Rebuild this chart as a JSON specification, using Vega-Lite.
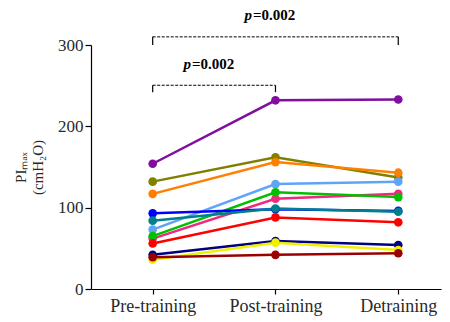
{
  "$schema": "https://vega.github.io/schema/vega-lite/v6.json",
  "autosize": {"type": "none"},
  "width": 350,
  "height": 244,
  "padding": {"left": 91, "top": 45, "right": 9, "bottom": 33},
  "config": {
    "view": {"stroke": null},
    "font": "Liberation Serif, Times New Roman, serif",
    "text": {"font": "Liberation Serif, Times New Roman, serif"},
    "axis": {"labelFont": "Liberation Serif, Times New Roman, serif", "titleFont": "Liberation Serif, Times New Roman, serif", "domainColor": "#000", "tickColor": "#000", "labelColor": "#2a2a2a", "titleColor": "#2a2a2a", "grid": false, "domainWidth": 1.2, "tickWidth": 1.2}
  },
  "datasets": {
    "pts": [
      {"id": "purple", "t": 1, "v": 154}, {"id": "purple", "t": 2, "v": 232}, {"id": "purple", "t": 3, "v": 233},
      {"id": "olive", "t": 1, "v": 132}, {"id": "olive", "t": 2, "v": 162}, {"id": "olive", "t": 3, "v": 137},
      {"id": "orange", "t": 1, "v": 117}, {"id": "orange", "t": 2, "v": 156}, {"id": "orange", "t": 3, "v": 143},
      {"id": "lightblue", "t": 1, "v": 73}, {"id": "lightblue", "t": 2, "v": 129}, {"id": "lightblue", "t": 3, "v": 132},
      {"id": "pink", "t": 1, "v": 62}, {"id": "pink", "t": 2, "v": 111}, {"id": "pink", "t": 3, "v": 117},
      {"id": "green", "t": 1, "v": 65}, {"id": "green", "t": 2, "v": 119}, {"id": "green", "t": 3, "v": 113},
      {"id": "blue", "t": 1, "v": 93}, {"id": "blue", "t": 2, "v": 98}, {"id": "blue", "t": 3, "v": 96},
      {"id": "teal", "t": 1, "v": 84}, {"id": "teal", "t": 2, "v": 99}, {"id": "teal", "t": 3, "v": 95},
      {"id": "red", "t": 1, "v": 56}, {"id": "red", "t": 2, "v": 88}, {"id": "red", "t": 3, "v": 82},
      {"id": "navy", "t": 1, "v": 42}, {"id": "navy", "t": 2, "v": 59}, {"id": "navy", "t": 3, "v": 54},
      {"id": "yellow", "t": 1, "v": 36}, {"id": "yellow", "t": 2, "v": 57}, {"id": "yellow", "t": 3, "v": 48},
      {"id": "darkred", "t": 1, "v": 39}, {"id": "darkred", "t": 2, "v": 42}, {"id": "darkred", "t": 3, "v": 44}
    ],
    "hlines": [
      {"x1": 1, "x2": 3, "y": 310},
      {"x1": 1, "x2": 2, "y": 250.5}
    ],
    "vlines": [
      {"x": 1, "y1": 310, "y2": 300},
      {"x": 3, "y1": 310, "y2": 300},
      {"x": 1, "y1": 250.5, "y2": 242},
      {"x": 2, "y1": 250.5, "y2": 242}
    ],
    "labels": [
      {"x": 1.817, "y": 337, "p": "p", "rest": "=0.002"},
      {"x": 1.32, "y": 277, "p": "p", "rest": "=0.002"}
    ]
  },
  "layer": [
    {
      "data": {"name": "pts"},
      "mark": {"type": "line", "strokeWidth": 2.5},
      "encoding": {
        "x": {"field": "t", "type": "quantitative", "scale": {"domain": [0.4976, 3.348], "nice": false, "zero": false},
          "axis": {"values": [1, 2, 3], "labelExpr": "datum.value == 1 ? 'Pre-training' : datum.value == 2 ? 'Post-training' : 'Detraining'", "title": null, "labelFontSize": 18, "tickSize": 5, "labelPadding": 3}},
        "y": {"field": "v", "type": "quantitative", "scale": {"domain": [0, 300], "nice": false},
          "axis": {"values": [0, 100, 200, 300], "labelFontSize": 17, "tickSize": 6, "labelPadding": 2, "title": ["PIₘₐₓ", "(cmH₂O)"], "titleFontSize": 15, "titleFontWeight": "normal", "titlePadding": 12}},
        "color": {"field": "id", "type": "nominal", "legend": null,
          "scale": {"domain": ["purple", "olive", "orange", "lightblue", "pink", "green", "blue", "teal", "red", "navy", "yellow", "darkred"],
            "range": ["#800f9f", "#808000", "#ff8000", "#5fa5f5", "#f02880", "#00c000", "#0000ff", "#007f8f", "#ff0000", "#000080", "#f0f000", "#9b0000"]}},
        "order": {"field": "t"}
      }
    },
    {
      "data": {"name": "pts"},
      "mark": {"type": "circle", "size": 75, "opacity": 1},
      "encoding": {
        "x": {"field": "t", "type": "quantitative"},
        "y": {"field": "v", "type": "quantitative"},
        "color": {"field": "id", "type": "nominal", "legend": null}
      }
    },
    {
      "data": {"name": "hlines"},
      "mark": {"type": "rule", "color": "#000", "strokeWidth": 1, "strokeDash": [3, 1.5]},
      "encoding": {
        "x": {"field": "x1", "type": "quantitative"},
        "x2": {"field": "x2"},
        "y": {"field": "y", "type": "quantitative"}
      }
    },
    {
      "data": {"name": "vlines"},
      "mark": {"type": "rule", "color": "#000", "strokeWidth": 1.2},
      "encoding": {
        "x": {"field": "x", "type": "quantitative"},
        "y": {"field": "y1", "type": "quantitative"},
        "y2": {"field": "y2"}
      }
    },
    {
      "data": {"name": "labels"},
      "mark": {"type": "text", "align": "right", "baseline": "middle", "fontStyle": "italic", "fontWeight": "bold", "fontSize": 15, "color": "#000", "dx": -1},
      "encoding": {
        "x": {"field": "x", "type": "quantitative"},
        "y": {"field": "y", "type": "quantitative"},
        "text": {"field": "p"}
      }
    },
    {
      "data": {"name": "labels"},
      "mark": {"type": "text", "align": "left", "baseline": "middle", "fontWeight": "bold", "fontSize": 15, "color": "#000"},
      "encoding": {
        "x": {"field": "x", "type": "quantitative"},
        "y": {"field": "y", "type": "quantitative"},
        "text": {"field": "rest"}
      }
    }
  ]
}
